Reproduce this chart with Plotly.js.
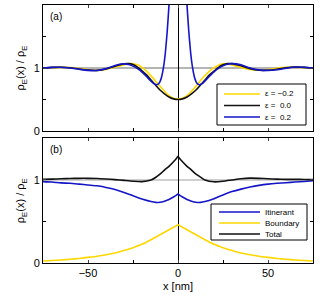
<!DOCTYPE html>
<html><head><meta charset="utf-8">
<script src="https://cdn.plot.ly/plotly-3.0.1.min.js"></script>
<style>html,body{margin:0;padding:0;background:#fff}#chart{width:322px;height:302px}</style>
</head><body><div id="chart"></div>
<script>
// Panel (a)
const xA = [-75,-70,-65,-60,-55,-50,-45,-40,-35,-30,-27.5,-25,-22.5,-20,-17.5,-15,-12.5,-10,-7.5,-5,-2.5,0,2.5,5,7.5,10,12.5,15,17.5,20,22.5,25,27.5,30,35,40,45,50,55,60,65,70,75];
const epsNeg = [1.0,1.005,1.01,1.008,0.99,0.972,0.963,0.978,1.015,1.05,1.065,1.068,1.05,1.01,0.95,0.875,0.795,0.71,0.63,0.56,0.52,0.51,0.52,0.56,0.63,0.71,0.80,0.88,0.95,1.005,1.045,1.065,1.065,1.05,1.01,0.975,0.965,0.975,0.995,1.01,1.012,1.005,1.0];
const epsZero = [1.0,1.01,1.012,1.005,0.985,0.968,0.962,0.985,1.03,1.065,1.07,1.055,1.015,0.955,0.89,0.81,0.73,0.65,0.59,0.54,0.51,0.50,0.51,0.54,0.59,0.65,0.73,0.81,0.89,0.95,1.01,1.05,1.07,1.07,1.035,0.99,0.965,0.965,0.98,1.005,1.015,1.01,1.0];
const xB = [-75,-70,-65,-60,-55,-50,-45,-40,-35,-32.5,-30,-27.5,-25,-22.5,-20,-17.5,-15,-14,-13,-12,-11,-10,-9,-8,-7,-6,-5,-4,-3,-2,-1,0,1,2,3,4,5,6,7,8,9,10,11,12,13,14,15,17.5,20,22.5,25,27.5,30,32.5,35,40,45,50,55,60,65,70,75];
const epsPos = [1.0,1.01,1.012,1.0,0.98,0.962,0.96,0.99,1.04,1.06,1.065,1.055,1.03,0.99,0.935,0.865,0.79,0.765,0.745,0.735,0.745,0.785,0.87,1.02,1.25,1.58,2.0,2.55,3.4,4.6,6.5,9.0,6.5,4.6,3.4,2.55,2.0,1.58,1.25,1.02,0.87,0.785,0.745,0.735,0.745,0.765,0.795,0.87,0.94,0.995,1.035,1.06,1.07,1.065,1.05,1.0,0.97,0.962,0.972,0.995,1.015,1.012,1.0];

// Panel (b)
const xC = [-75,-70,-65,-60,-55,-50,-45,-40,-35,-30,-25,-20,-15,-12.5,-10,-7.5,-5,-2.5,-1,0,1,2.5,5,7.5,10,12.5,15,20,25,30,35,40,45,50,55,60,65,70,75];
const itinerant = [0.98,0.975,0.965,0.96,0.95,0.94,0.93,0.91,0.885,0.85,0.81,0.77,0.74,0.73,0.732,0.745,0.765,0.795,0.815,0.83,0.815,0.795,0.765,0.745,0.732,0.73,0.74,0.775,0.82,0.86,0.89,0.915,0.935,0.95,0.96,0.967,0.975,0.982,0.99];
const boundary = [0.025,0.03,0.037,0.045,0.055,0.068,0.082,0.10,0.12,0.15,0.185,0.225,0.28,0.31,0.34,0.37,0.40,0.43,0.448,0.46,0.448,0.43,0.40,0.37,0.34,0.31,0.28,0.225,0.185,0.15,0.12,0.10,0.082,0.068,0.055,0.045,0.037,0.03,0.025];
const total = [1.008,1.01,1.015,1.018,1.02,1.02,1.018,1.012,1.005,0.995,0.985,0.98,1.0,1.03,1.07,1.12,1.165,1.22,1.255,1.285,1.255,1.22,1.165,1.12,1.07,1.035,1.0,0.978,0.985,1.0,1.015,1.022,1.02,1.015,1.01,1.008,1.008,1.006,1.005];

const namesA = ['\u03b5 = \u22120.2','\u03b5 =  0.0','\u03b5 =  0.2'];
const namesB = ['Itinerant','Boundary','Total'];
const YEL = '#ffd700', BLK = '#111111', BLU = '#1515c8';
const colorsA = [YEL, BLK, BLU];
const colorsB = [BLU, YEL, BLK];

const traces = [
  {x:xA,y:epsNeg,name:namesA[0],line:{color:YEL,width:1.6,shape:'spline',smoothing:0.6},xaxis:'x',yaxis:'y'},
  {x:xA,y:epsZero,name:namesA[1],line:{color:BLK,width:1.6,shape:'spline',smoothing:0.6},xaxis:'x',yaxis:'y'},
  {x:xB,y:epsPos,name:namesA[2],line:{color:BLU,width:1.6,shape:'spline',smoothing:0.5},xaxis:'x',yaxis:'y'},
  {x:xC,y:itinerant,name:namesB[0],line:{color:BLU,width:1.6,shape:'spline',smoothing:0.6},xaxis:'x2',yaxis:'y2'},
  {x:xC,y:boundary,name:namesB[1],line:{color:YEL,width:1.6,shape:'spline',smoothing:0.6},xaxis:'x2',yaxis:'y2'},
  {x:xC,y:total,name:namesB[2],line:{color:BLK,width:1.6,shape:'spline',smoothing:0.6},xaxis:'x2',yaxis:'y2'}
].map(t=>Object.assign({type:'scatter',mode:'lines',hoverinfo:'skip',showlegend:false},t));

const FONT = 'Liberation Sans, Arial, sans-serif';
const W = 322, H = 302, ML = 43, MR = 9, MT = 5, MB = 39;
const PW = W-ML-MR, PH = H-MT-MB;
const px2x = p => (p-ML)/PW;
const px2y = p => (H-MB-p)/PH;
const TF = {size:11,color:'#000',family:FONT};

const xCommon = {range:[-75,75],tick0:-50,dtick:50,ticks:'inside',ticklen:3,mirror:'ticks',showline:true,linecolor:'#000',linewidth:1,showgrid:false,zeroline:true,zerolinecolor:'#000',zerolinewidth:1,tickfont:TF,
  minor:{dtick:25,tick0:0,ticks:'inside',ticklen:3,tickcolor:'#000',showgrid:false}};
const yTitle = {text:'\u03c1<sub>E</sub>(x) / \u03c1<sub>E</sub>',font:TF,standoff:6};
const yCommon = {tick0:0,dtick:1,ticks:'inside',ticklen:3,mirror:'ticks',showline:true,linecolor:'#000',linewidth:1,showgrid:false,zeroline:false,tickfont:TF,
  minor:{dtick:0.5,tick0:0,ticks:'inside',ticklen:3,tickcolor:'#000',showgrid:false},title:yTitle};

const shapes = [
  {type:'line',xref:'x domain',yref:'y',x0:0,x1:1,y0:1,y1:1,line:{color:'#444',width:0.8},layer:'below'},
  {type:'line',xref:'x2 domain',yref:'y2',x0:0,x1:1,y0:1,y1:1,line:{color:'#888',width:0.8},layer:'below'}
];
const annotations = [
  {text:'(a)',xref:'x domain',yref:'y domain',x:0.02,y:0.97,xanchor:'left',yanchor:'top',showarrow:false,font:{size:10,color:'#000',family:FONT}},
  {text:'(b)',xref:'x2 domain',yref:'y2 domain',x:0.02,y:0.97,xanchor:'left',yanchor:'top',showarrow:false,font:{size:10,color:'#000',family:FONT}}
];
// legend boxes built from the names and colours
function addLegend(names, colors, box, rows, lineX0, lineX1, textX){
  shapes.push({type:'rect',xref:'paper',yref:'paper',x0:px2x(box[0]),x1:px2x(box[1]),y0:px2y(box[3]),y1:px2y(box[2]),
    fillcolor:'#fff',line:{color:'#000',width:1},layer:'above'});
  names.forEach((n,i)=>{
    shapes.push({type:'line',xref:'paper',yref:'paper',x0:px2x(lineX0),x1:px2x(lineX1),y0:px2y(rows[i]),y1:px2y(rows[i]),line:{color:colors[i],width:1.6},layer:'above'});
    annotations.push({text:n,xref:'paper',yref:'paper',x:px2x(textX),y:px2y(rows[i]),xanchor:'left',yanchor:'middle',showarrow:false,font:{size:8,color:'#000',family:FONT}});
  });
}
addLegend(namesA, colorsA, [217,306,84,125], [94,105.5,117], 224, 260, 263);
addLegend(namesB, colorsB, [211,307,204,240], [212,223,234], 219, 260, 263);

const layout = {
  width:W,height:H,
  margin:{l:ML,r:MR,t:MT,b:MB},
  paper_bgcolor:'#fff',plot_bgcolor:'#fff',
  font:{family:FONT,color:'#000',size:11},
  showlegend:false,
  xaxis:Object.assign({},xCommon,{anchor:'y',showticklabels:false}),
  yaxis:Object.assign({},yCommon,{domain:[0.5116,1],range:[0,2]}),
  xaxis2:Object.assign({},xCommon,{anchor:'y2',matches:'x',title:{text:'x [nm]',font:TF,standoff:4}}),
  yaxis2:Object.assign({},yCommon,{domain:[0,0.4826],range:[0,1.5],anchor:'x2'}),
  shapes:shapes,
  annotations:annotations
};
Plotly.newPlot('chart',traces,layout,{displayModeBar:false});
</script>
</body></html>
